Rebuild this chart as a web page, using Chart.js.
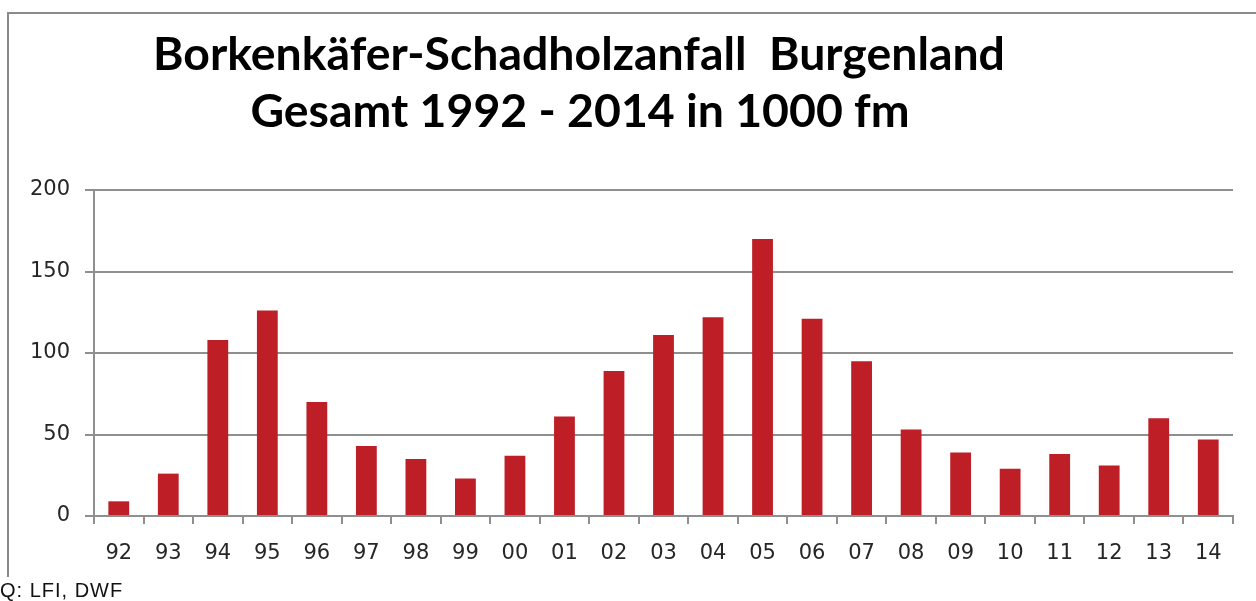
<!DOCTYPE html>
<html><head><meta charset="utf-8">
<script src="https://cdn.jsdelivr.net/npm/chart.js@4.4.1/dist/chart.umd.min.js"></script>
<style>
html,body{margin:0;padding:0;background:#fff;}
#wrap{position:relative;width:1256px;height:601px;overflow:hidden;background:#fff;}
#frame{position:absolute;left:7px;top:12px;width:1270px;height:563px;border-left:2px solid #8a8a8a;border-top:2px solid #8a8a8a;}
#c{position:absolute;left:0;top:0;}
#src{position:absolute;left:0px;top:579px;font:20px "Liberation Sans",Arial,sans-serif;letter-spacing:1px;color:#111;white-space:nowrap;}
</style></head><body>
<div id="wrap"><div id="frame"></div><canvas id="c" width="1256" height="601"></canvas><div id="src">Q: LFI, DWF</div></div>
<script>
const years = ["92","93","94","95","96","97","98","99","00","01","02","03","04","05","06","07","08","09","10","11","12","13","14"];
const values = [9,26,108,126,70,43,35,23,37,61,89,111,122,170,121,95,53,39,29,38,31,60,47];
const yMin = 0, yMax = 200, yStep = 50;
const titleLines = ["Borkenkäfer-Schadholzanfall  Burgenland", "Gesamt 1992 - 2014 in 1000 fm"];

const gridColor = '#8f8f8f';
const tickFont = {family: '"DejaVu Sans", Verdana, sans-serif', size: 21};
const tickColor = '#262626';

const titlePlugin = {
  id: 'customTitle',
  afterDraw(chart) {
    const ctx = chart.ctx;
    ctx.save();
    ctx.fillStyle = '#000';
    ctx.textAlign = 'center';
    ctx.textBaseline = 'alphabetic';
    let size = 40;
    ctx.font = 'bold ' + size + 'px Lato, "Open Sans", sans-serif';
    const w = ctx.measureText(titleLines[0]).width;
    size = size * 852 / w;
    ctx.font = 'bold ' + size.toFixed(2) + 'px Lato, "Open Sans", sans-serif';
    ctx.fillText(titleLines[0], 579, 70);
    ctx.fillText(titleLines[1], 580, 127);
    ctx.restore();
  }
};

new Chart(document.getElementById('c'), {
  type: 'bar',
  data: {
    labels: years,
    datasets: [{
      data: values,
      backgroundColor: '#BE1E26',
      borderWidth: 0,
      categoryPercentage: 1,
      barPercentage: 0.42
    }]
  },
  options: {
    responsive: false,
    animation: false,
    layout: {padding: {top: 190, right: 23, left: 0, bottom: 0}},
    plugins: {legend: {display: false}, tooltip: {enabled: false}, title: {display: false}},
    scales: {
      x: {
        afterFit(scale) { scale.height = 85; },
        grid: {offset: true, drawOnChartArea: false, drawTicks: true, tickLength: 8, color: gridColor, lineWidth: 2},
        border: {display: true, color: gridColor, width: 2},
        ticks: {font: tickFont, color: tickColor, padding: 17, maxRotation: 0, autoSkip: false}
      },
      y: {
        min: yMin, max: yMax,
        afterFit(scale) { scale.width = 94; },
        grid: {color: gridColor, lineWidth: 2, tickLength: 9, drawTicks: true},
        border: {display: true, color: gridColor, width: 2},
        ticks: {stepSize: yStep, font: tickFont, color: tickColor, padding: 15}
      }
    }
  },
  plugins: [titlePlugin]
});
</script>
</body></html>
